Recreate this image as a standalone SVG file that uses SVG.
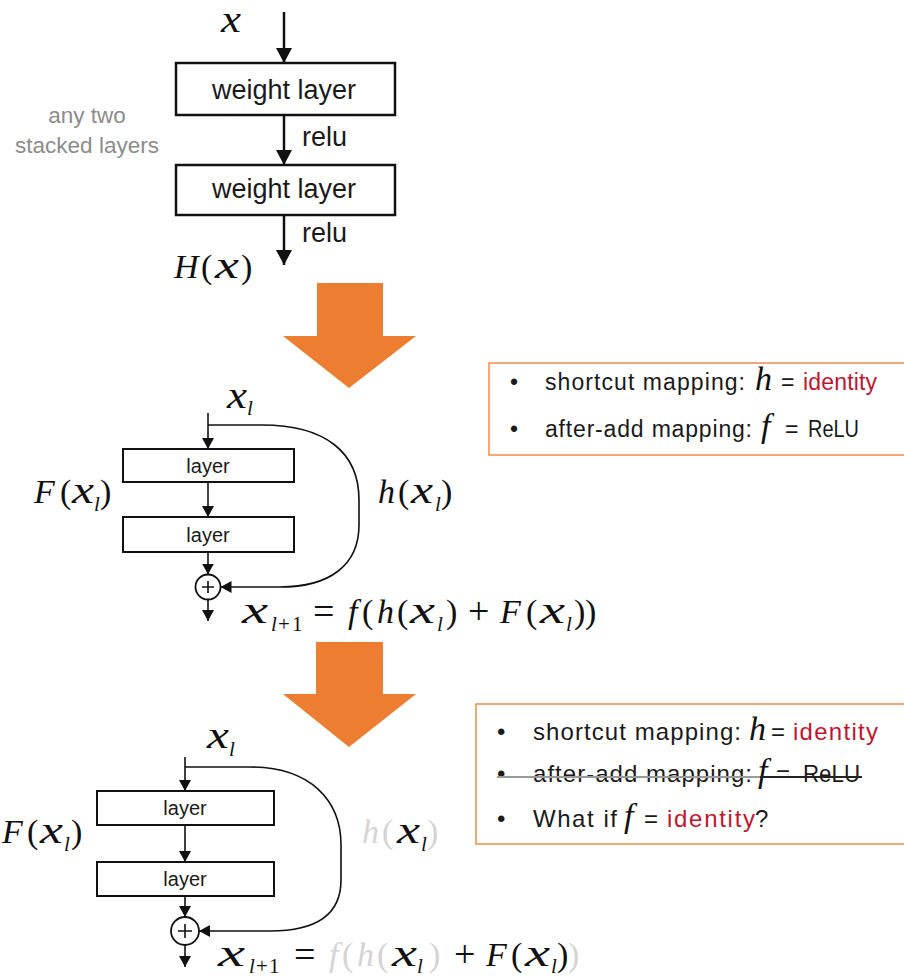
<svg xmlns="http://www.w3.org/2000/svg" width="904" height="978" viewBox="0 0 904 978">
  <style>
    .sans { font-family: "Liberation Sans", Arial, sans-serif; fill: #1a1a1a; }
    .lbl { font-size: 27px; }
    .lay { font-size: 20px; text-anchor: middle; }
    .note { font-size: 22.5px; fill: #8c8c8c; text-anchor: middle; }
    .m { font-family: "Liberation Serif", "Times New Roman", serif; font-size: 34px; fill: #111; }
    .xv { font-size: 37px; }
    .i { font-style: italic; }
    .s { font-size: 21px; }
    .op { font-size: 38px; }
    .fade { fill: #d4d4d4; }
    .b1 { font-size: 23px; }
    .b2 { font-size: 24px; }
    .red { fill: #c0152f; }
    .box { fill: #fff; stroke: #111; }
    .wire { fill: none; stroke: #111; }
    .big { stroke-width: 2.5; }
    .thin { stroke-width: 1.6; }
    .note-box { fill: none; stroke: #ee8a4a; stroke-width: 1.5; }
    .orange { fill: #ed7d31; }
  </style>
  <defs>
    <marker id="ahBig" viewBox="0 0 15 16" refX="15" refY="8" markerWidth="15" markerHeight="16" orient="auto" markerUnits="userSpaceOnUse">
      <path d="M0,0 L15,8 L0,16 z" fill="#111"/>
    </marker>
    <marker id="ahSm" viewBox="0 0 11 12" refX="11" refY="6" markerWidth="11" markerHeight="12" orient="auto" markerUnits="userSpaceOnUse">
      <path d="M0,0 L11,6 L0,12 z" fill="#111"/>
    </marker>
  </defs>

  <!-- plain block: two stacked weight layers -->
  <g id="plain-input">
    <text class="m i xv" x="221" y="32" textLength="20" lengthAdjust="spacingAndGlyphs">x</text>
  </g>
  <g id="weight-layer-1">
    <rect class="box big" x="176" y="63" width="219" height="52"/>
    <text class="sans lbl" x="284" y="99" text-anchor="middle">weight layer</text>
  </g>
  <g id="weight-layer-2">
    <rect class="box big" x="176" y="165" width="219" height="50"/>
    <text class="sans lbl" x="284" y="198" text-anchor="middle">weight layer</text>
  </g>
  <g id="plain-output">
    <text class="m i" x="174" y="278">H</text>
    <text class="m" x="201" y="278">(</text>
    <text class="m i xv" x="215" y="278" textLength="24" lengthAdjust="spacingAndGlyphs">x</text>
    <text class="m" x="241" y="278">)</text>
  </g>
  <g id="stack-note">
    <text class="sans note" x="87" y="123">any two</text>
    <text class="sans note" x="87" y="153">stacked layers</text>
  </g>

  <!-- big orange transition arrows -->
  <g id="transition-1">
    <polygon class="orange" points="317,283 383,283 383,336 416,336 349,388 283,336 317,336"/>
  </g>
  <g id="transition-2">
    <polygon class="orange" points="316,642 383,642 383,694 416,694 349,747 283,694 316,694"/>
  </g>

  <!-- residual unit with ReLU after addition -->
  <g id="res1-input">
    <text class="m i xv" x="227" y="408" textLength="20" lengthAdjust="spacingAndGlyphs">x</text>
    <text class="m i s" x="247" y="415">l</text>
  </g>
  <g id="res1-layer-1">
    <rect class="box" stroke-width="2" x="123" y="449" width="171" height="33"/>
    <text class="sans lay" x="208" y="473">layer</text>
  </g>
  <g id="res1-layer-2">
    <rect class="box" stroke-width="2" x="123" y="517" width="171" height="35"/>
    <text class="sans lay" x="208" y="542">layer</text>
  </g>
  <g id="res1-add">
    <circle cx="208" cy="587" r="12.5" fill="#fff" stroke="#111" stroke-width="1.8"/>
    <path d="M202,587 H214 M208,581 V593" stroke="#111" stroke-width="1.6"/>
  </g>
  <g id="res1-F">
    <text class="m i" x="34" y="503">F</text>
    <text class="m" x="60" y="503">(</text>
    <text class="m i xv" x="72" y="503" textLength="22" lengthAdjust="spacingAndGlyphs">x</text>
    <text class="m i s" x="94" y="511">l</text>
    <text class="m" x="100" y="503">)</text>
  </g>
  <g id="res1-h">
    <text class="m i" x="378" y="503">h</text>
    <text class="m" x="398" y="503">(</text>
    <text class="m i xv" x="411" y="503" textLength="22" lengthAdjust="spacingAndGlyphs">x</text>
    <text class="m i s" x="435" y="511">l</text>
    <text class="m" x="441" y="503">)</text>
  </g>
  <g id="res1-formula">
    <text class="m i xv" x="242" y="623" textLength="26" lengthAdjust="spacingAndGlyphs">x</text>
    <text class="m i s" x="271" y="631">l</text>
    <text class="m s" x="278" y="631">+</text>
    <text class="m s" x="292" y="631">1</text>
    <text class="m op" x="313" y="624">=</text>
    <text class="m i" x="348" y="623">f</text>
    <text class="m" x="362" y="623">(</text>
    <text class="m i" x="377" y="623">h</text>
    <text class="m" x="397" y="623">(</text>
    <text class="m i xv" x="410" y="623" textLength="25" lengthAdjust="spacingAndGlyphs">x</text>
    <text class="m i s" x="437" y="631">l</text>
    <text class="m" x="446" y="623">)</text>
    <text class="m op" x="468" y="624">+</text>
    <text class="m i" x="500" y="623">F</text>
    <text class="m" x="526" y="623">(</text>
    <text class="m i xv" x="540" y="623" textLength="25" lengthAdjust="spacingAndGlyphs">x</text>
    <text class="m i s" x="566" y="631">l</text>
    <text class="m" x="574" y="623">)</text>
    <text class="m" x="585" y="623">)</text>
  </g>
  <g id="res1-notes">
    <rect class="note-box" x="489" y="363" width="430" height="92"/>
    <text class="sans b1" x="510" y="390">•</text>
    <text class="sans b1" x="545" y="390" textLength="200" lengthAdjust="spacing">shortcut mapping:</text>
    <text class="m i" x="755" y="390" font-size="24">h</text>
    <text class="sans b1" x="781" y="390">=</text>
    <text class="sans b1 red" x="803" y="390" textLength="74" lengthAdjust="spacing">identity</text>
    <text class="sans b1" x="510" y="437">•</text>
    <text class="sans b1" x="545" y="437" textLength="207" lengthAdjust="spacing">after-add mapping:</text>
    <text class="m i" x="761" y="437" font-size="24">f</text>
    <text class="sans b1" x="785" y="437">=</text>
    <text class="sans b1" x="808" y="437" textLength="51" lengthAdjust="spacingAndGlyphs">ReLU</text>
  </g>

  <!-- residual unit with identity after addition -->
  <g id="res2-input">
    <text class="m i xv" x="207" y="748" textLength="22" lengthAdjust="spacingAndGlyphs">x</text>
    <text class="m i s" x="229" y="756">l</text>
  </g>
  <g id="res2-layer-1">
    <rect class="box" stroke-width="2" x="97" y="791" width="177" height="34"/>
    <text class="sans lay" x="185" y="815" font-size="21">layer</text>
  </g>
  <g id="res2-layer-2">
    <rect class="box" stroke-width="2" x="97" y="862" width="177" height="34"/>
    <text class="sans lay" x="185" y="886" font-size="21">layer</text>
  </g>
  <g id="res2-add">
    <circle cx="185" cy="931" r="14" fill="#fff" stroke="#111" stroke-width="1.8"/>
    <path d="M178,931 H192 M185,924 V938" stroke="#111" stroke-width="1.6"/>
  </g>
  <g id="res2-F">
    <text class="m i" x="2" y="843">F</text>
    <text class="m" x="27" y="843">(</text>
    <text class="m i xv" x="40" y="843" textLength="23" lengthAdjust="spacingAndGlyphs">x</text>
    <text class="m i s" x="64" y="851">l</text>
    <text class="m" x="71" y="843">)</text>
  </g>
  <g id="res2-h">
    <text class="m i fade" x="362" y="843">h</text>
    <text class="m fade" x="382" y="843">(</text>
    <text class="m i xv" x="397" y="843" textLength="23" lengthAdjust="spacingAndGlyphs">x</text>
    <text class="m i s" x="421" y="851">l</text>
    <text class="m fade" x="427" y="843">)</text>
  </g>
  <g id="res2-formula">
    <text class="m i xv" x="218" y="966" textLength="27" lengthAdjust="spacingAndGlyphs">x</text>
    <text class="m i s" x="249" y="973">l</text>
    <text class="m s" x="256" y="973">+</text>
    <text class="m s" x="269" y="973">1</text>
    <text class="m op" x="294" y="967">=</text>
    <text class="m i fade" x="329" y="966">f</text>
    <text class="m fade" x="342" y="966">(</text>
    <text class="m i fade" x="357" y="966">h</text>
    <text class="m fade" x="377" y="966">(</text>
    <text class="m i xv" x="392" y="966" textLength="25" lengthAdjust="spacingAndGlyphs">x</text>
    <text class="m i s" x="417" y="973">l</text>
    <text class="m fade" x="429" y="966">)</text>
    <text class="m op" x="454" y="967">+</text>
    <text class="m i" x="486" y="966">F</text>
    <text class="m" x="511" y="966">(</text>
    <text class="m i xv" x="525" y="966" textLength="25" lengthAdjust="spacingAndGlyphs">x</text>
    <text class="m i s" x="551" y="973">l</text>
    <text class="m" x="557" y="966">)</text>
    <text class="m fade" x="568" y="966">)</text>
  </g>
  <g id="res2-notes">
    <rect class="note-box" x="476" y="704" width="440" height="140"/>
    <text class="sans b2" x="497" y="740">•</text>
    <text class="sans b2" x="533" y="740" textLength="208" lengthAdjust="spacing">shortcut mapping:</text>
    <text class="m i" x="749" y="740" font-size="25">h</text>
    <text class="sans b2" x="771" y="740">=</text>
    <text class="sans b2 red" x="793" y="740" textLength="85" lengthAdjust="spacing">identity</text>
    <text class="sans b2" x="497" y="782">•</text>
    <text class="sans b2" x="533" y="782" textLength="219" lengthAdjust="spacing">after-add mapping:</text>
    <text class="m i" x="758" y="782" font-size="25">f</text>
    <text class="sans b2" x="776" y="782">=</text>
    <text class="sans b2" x="803" y="782" textLength="57" lengthAdjust="spacingAndGlyphs">ReLU</text>
    <line x1="497" y1="777" x2="760" y2="777" stroke="#9a9a9a" stroke-width="2"/>
    <line x1="760" y1="777" x2="862" y2="777" stroke="#222" stroke-width="2"/>
    <text class="sans b2" x="497" y="827">•</text>
    <text class="sans b2" x="533" y="827" textLength="84" lengthAdjust="spacing">What if</text>
    <text class="m i" x="624" y="827" font-size="25">f</text>
    <text class="sans b2" x="644" y="827">=</text>
    <text class="sans b2 red" x="667" y="827" textLength="88" lengthAdjust="spacing">identity</text>
    <text class="sans b2" x="755" y="827">?</text>
  </g>

  <!-- connectors -->
  <g id="connectors">
    <line class="wire big" x1="284" y1="12" x2="284" y2="63" marker-end="url(#ahBig)"/>
    <line class="wire big" x1="284" y1="115" x2="284" y2="165" marker-end="url(#ahBig)"/>
    <line class="wire big" x1="284" y1="215" x2="284" y2="265" marker-end="url(#ahBig)"/>
    <text class="sans lbl" x="302" y="146">relu</text>
    <text class="sans lbl" x="302" y="242">relu</text>

    <line class="wire thin" x1="208" y1="413" x2="208" y2="449" marker-end="url(#ahSm)"/>
    <line class="wire thin" x1="208" y1="482" x2="208" y2="517" marker-end="url(#ahSm)"/>
    <line class="wire thin" x1="208" y1="552" x2="208" y2="574.5" marker-end="url(#ahSm)"/>
    <line class="wire thin" x1="208" y1="599.5" x2="208" y2="621" marker-end="url(#ahSm)"/>
    <path class="wire thin" d="M208,425 L262,425 C325,425 359,452 359,500 L359,525 C359,565 330,587 280,587 L220.5,587" marker-end="url(#ahSm)"/>

    <line class="wire thin" x1="185" y1="757" x2="185" y2="791" marker-end="url(#ahSm)"/>
    <line class="wire thin" x1="185" y1="825" x2="185" y2="862" marker-end="url(#ahSm)"/>
    <line class="wire thin" x1="185" y1="896" x2="185" y2="917" marker-end="url(#ahSm)"/>
    <line class="wire thin" x1="185" y1="945" x2="185" y2="967" marker-end="url(#ahSm)"/>
    <path class="wire thin" d="M185,767 L250,767 C310,767 341,800 341,845 L341,880 C341,915 315,931 270,931 L199,931" marker-end="url(#ahSm)"/>
  </g>
</svg>
